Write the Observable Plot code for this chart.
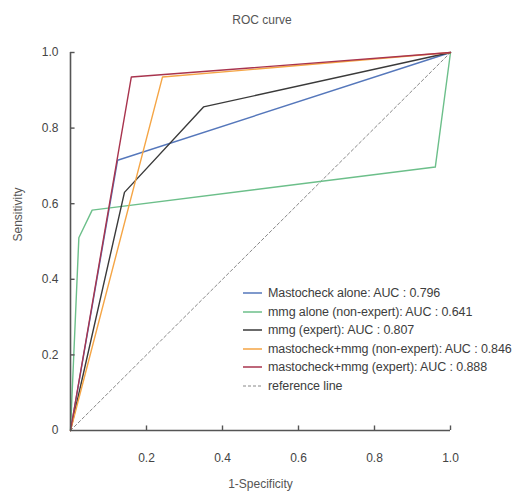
<!DOCTYPE html>
<html><head><meta charset="utf-8">
<script src="https://cdn.jsdelivr.net/npm/d3@7"></script>
<script src="https://cdn.jsdelivr.net/npm/@observablehq/plot@0.6"></script>
<style>
body{margin:0;background:#fff;font-family:"Liberation Sans",sans-serif;}
#wrap{position:relative;width:524px;height:493px;}
#title{position:absolute;left:0;width:524px;top:13px;text-align:center;font-size:12px;color:#555;}
#legend{position:absolute;left:243px;top:284px;font-size:12.5px;color:#3d3d3d;letter-spacing:-0.1px;}
#legend .row{display:flex;align-items:center;height:18.5px;white-space:nowrap;}
#legend svg{margin-right:6px;}
</style></head>
<body><div id="wrap"><div id="title">ROC curve</div><div id="legend"></div></div>
<script>
const seriesNames = [
  "Mastocheck alone: AUC : 0.796",
  "mmg alone (non-expert): AUC : 0.641",
  "mmg (expert): AUC : 0.807",
  "mastocheck+mmg (non-expert): AUC : 0.846",
  "mastocheck+mmg (expert): AUC : 0.888",
  "reference line"
];
const seriesColors = ["#5577bb", "#6cbf8a", "#3a3a3a", "#f5a545", "#a8344e", "#888888"];
const fprMastocheck = [0, 0.124, 1];
const tprMastocheck = [0, 0.715, 1];
const fprMmgNonExpert = [0, 0.022, 0.057, 0.96, 1];
const tprMmgNonExpert = [0, 0.51, 0.583, 0.697, 1];
const fprMmgExpert = [0, 0.142, 0.35, 1];
const tprMmgExpert = [0, 0.63, 0.856, 1];
const fprComboNonExpert = [0, 0.242, 1];
const tprComboNonExpert = [0, 0.935, 1];
const fprComboExpert = [0, 0.16, 1];
const tprComboExpert = [0, 0.935, 1];
const fprReference = [0, 1];
const tprReference = [0, 1];
const xTicks = [0.2, 0.4, 0.6, 0.8, 1.0];
const yTicks = [0, 0.2, 0.4, 0.6, 0.8, 1.0];

const curves = [
  [fprMastocheck, tprMastocheck],
  [fprMmgNonExpert, tprMmgNonExpert],
  [fprMmgExpert, tprMmgExpert],
  [fprComboNonExpert, tprComboNonExpert],
  [fprComboExpert, tprComboExpert]
];
const rows = [];
curves.forEach(([xs, ys], i) => xs.forEach((x, j) => rows.push({series: seriesNames[i], x, y: ys[j]})));
const ref = fprReference.map((x, j) => ({x, y: tprReference[j]}));
const fmt = d => d === 0 ? "0" : d.toFixed(1);
const axisColor = "#555";
const tickLen = 0.012; // inward tick length in data units

const chart = Plot.plot({
  width: 524, height: 493,
  marginTop: 52, marginBottom: 63, marginLeft: 70, marginRight: 74,
  style: {fontFamily: '"Liberation Sans",sans-serif', fontSize: "12px", color: "#444", background: "#fff"},
  x: {domain: [0, 1]},
  y: {domain: [0, 1]},
  color: {domain: seriesNames, range: seriesColors},
  marks: [
    Plot.line(ref, {x: "x", y: "y", stroke: seriesColors[5], strokeWidth: 1, strokeDasharray: "3,2.5"}),
    Plot.line(rows, {x: "x", y: "y", z: "series", stroke: "series", strokeWidth: 1.4}),
    Plot.ruleX(xTicks, {y1: 0, y2: tickLen, stroke: axisColor, strokeWidth: 1.4}),
    Plot.ruleY(yTicks.slice(1), {x1: 0, x2: tickLen, stroke: axisColor, strokeWidth: 1.4}),
    Plot.ruleX([0], {stroke: axisColor, strokeWidth: 1.6}),
    Plot.ruleY([0], {stroke: axisColor, strokeWidth: 1.6}),
    Plot.axisX(xTicks, {tickSize: 0, tickPadding: 23, tickFormat: fmt, fill: "#444", label: null, fontSize: 12}),
    Plot.axisY(yTicks, {tickSize: 0, tickPadding: 12, tickFormat: fmt, fill: "#444", label: null, fontSize: 12}),
    Plot.text(["1-Specificity"], {frameAnchor: "bottom", dy: 57, fill: "#555", fontSize: 12}),
    Plot.text(["Sensitivity"], {frameAnchor: "left", dx: -52, rotate: -90, fill: "#555", fontSize: 12})
  ]
});
document.getElementById("wrap").prepend(chart);
chart.style.position = "absolute"; chart.style.left = "0"; chart.style.top = "0";

const legend = document.getElementById("legend");
seriesNames.forEach((name, i) => {
  const row = document.createElement("div");
  row.className = "row";
  const dash = i === 5 ? 'stroke-dasharray="3,2"' : "";
  row.innerHTML = `<svg width="19" height="4"><line x1="0" y1="2" x2="19" y2="2" stroke="${seriesColors[i]}" stroke-width="${i===5?1:1.5}" ${dash}/></svg><span>${name}</span>`;
  legend.appendChild(row);
});
</script></body></html>
